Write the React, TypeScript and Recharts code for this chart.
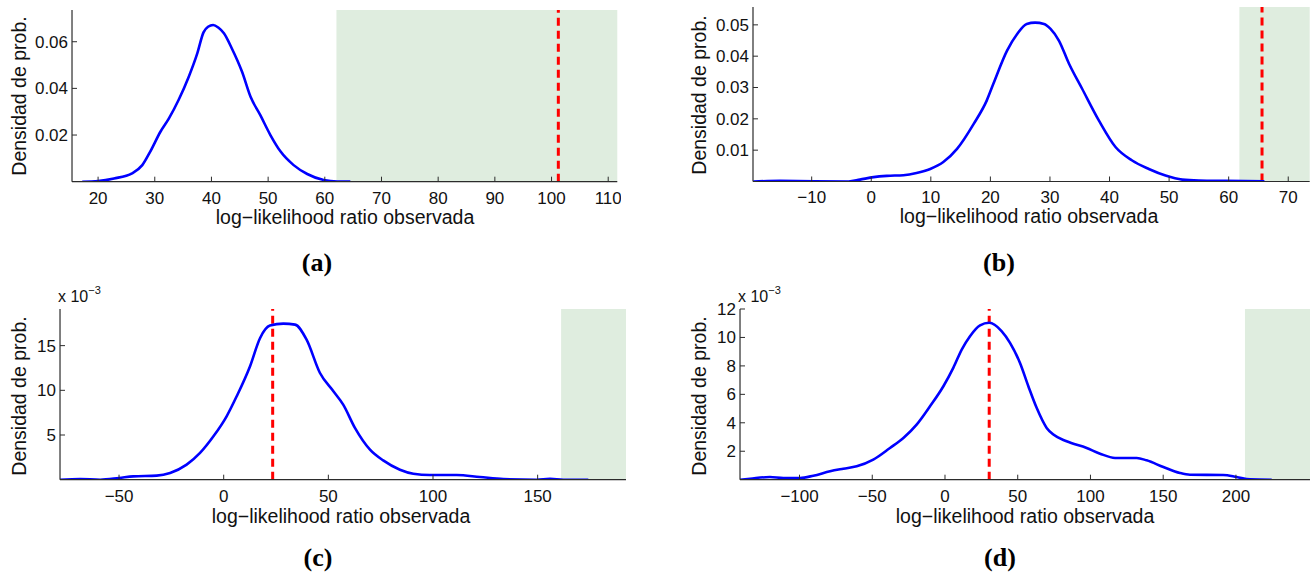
import React from "react";
import {
  ComposedChart,
  Line,
  XAxis,
  YAxis,
  ReferenceArea,
  ReferenceLine,
} from "recharts";

// panel (a)
const xA = [17.2, 20, 22.8, 26, 27.8, 29.2, 31, 32.5, 34.2, 36, 37.5, 38.6, 39.4, 40.3, 41.2, 42.2, 43.6, 45.4, 46.9, 48.6, 50.4, 52.2, 54.5, 56.9, 59.8, 62.2, 64.5];
const yA = [0, 0.0003, 0.0014, 0.0036, 0.0071, 0.0129, 0.0214, 0.0271, 0.035, 0.045, 0.055, 0.064, 0.0664, 0.0672, 0.0661, 0.0636, 0.0571, 0.0471, 0.0364, 0.0286, 0.02, 0.0129, 0.0071, 0.0033, 0.0007, 0.0001, 0.0001];
const xTicksA = [20, 30, 40, 50, 60, 70, 80, 90, 100, 110];
const yTicksA = [0.02, 0.04, 0.06];

// panel (b)
const xB = [-19.8, -15.3, -3.8, -1.9, 0.4, 2.6, 5.4, 7.6, 9.9, 12.1, 14.4, 17.2, 19.4, 20.5, 22.8, 24.5, 26.1, 27.5, 29, 30.1, 31.5, 33.2, 35.4, 38.2, 41, 43.8, 46.6, 49.4, 52.2, 55, 59.5, 66];
const yB = [0, 0.0002, 0, 0.0006, 0.0014, 0.0018, 0.002, 0.0027, 0.004, 0.0062, 0.0104, 0.0184, 0.0259, 0.0312, 0.0418, 0.0471, 0.0503, 0.0507, 0.0503, 0.0487, 0.045, 0.0376, 0.0296, 0.0195, 0.011, 0.0067, 0.004, 0.0019, 0.0006, 0.0003, 0.0002, 0.0001];
const xTicksB = [-10, 0, 10, 20, 30, 40, 50, 60, 70];
const yTicksB = [0.01, 0.02, 0.03, 0.04, 0.05];

// panel (c), density in units of 10^-3
const xC = [-78.2, -68.6, -59, -50, -43.2, -32, -25.6, -17.7, -11.3, -4.9, 1.4, 6.2, 12.6, 17.4, 22.1, 28.5, 34.1, 39.6, 46, 52.4, 57.1, 62.7, 69.9, 76.2, 84.2, 90.6, 98.5, 111.3, 122.4, 133.6, 149.5, 155.9, 162.3, 174.2];
const yC = [0, 0.07, 0, 0.19, 0.37, 0.45, 0.75, 1.68, 2.99, 4.85, 7.09, 9.33, 12.7, 15.86, 17.24, 17.46, 17.35, 15.67, 11.94, 9.9, 8.4, 5.8, 3.36, 2.16, 1.12, 0.67, 0.52, 0.52, 0.3, 0.07, 0, 0.1, 0, 0];
const xTicksC = [-50, 0, 50, 100, 150];
const yTicksC = [5, 10, 15];

// panel (d), density in units of 10^-3
const xD = [-140.9, -134, -120.3, -111.1, -99.7, -90.5, -79, -69.9, -60.7, -49.3, -37.8, -28.6, -19.5, -10.3, -1.1, 5.7, 11.5, 17.2, 24.1, 30.4, 38.9, 44.7, 51.5, 57.3, 63, 69.9, 74.5, 83.6, 97.4, 106.6, 116.9, 131.8, 138.6, 150.1, 161.5, 168.4, 191.3, 200.5, 209.7, 224.6];
const yD = [0, 0.07, 0.19, 0.12, 0.12, 0.28, 0.59, 0.77, 0.94, 1.41, 2.23, 2.93, 3.87, 5.16, 6.57, 7.86, 9.15, 10.09, 10.85, 11.03, 10.45, 9.62, 8.22, 6.57, 5.05, 3.64, 3.17, 2.7, 2.23, 1.83, 1.53, 1.53, 1.36, 0.89, 0.47, 0.35, 0.33, 0.19, 0.02, 0];
const xTicksD = [-100, -50, 0, 50, 100, 150, 200];
const yTicksD = [2, 4, 6, 8, 10, 12];

const SANS = '"Liberation Sans", Arial, Helvetica, sans-serif';
const SERIF = '"Liberation Serif", "Times New Roman", serif';
const AXIS = "#2b2b2b";
const GREEN = "#dfeddf";
const X_LABEL = "log\u2212likelihood ratio observada";
const Y_LABEL = "Densidad de prob.";

const fmtX = (v: number) => (v < 0 ? "\u2212" + Math.abs(v) : String(v));

function XTick(props: any) {
  const { x, y, payload } = props;
  return (
    <g>
      <line x1={x} y1={y} x2={x} y2={y - 5} stroke={AXIS} strokeWidth={1} />
      <text x={x} y={y + 22} textAnchor="middle" fontSize={17} fontFamily={SANS} fill="#111">
        {fmtX(payload.value)}
      </text>
    </g>
  );
}

function makeYTick(fmt: (v: number) => string) {
  return function YTick(props: any) {
    const { x, y, payload } = props;
    return (
      <g>
        <line x1={x} y1={y} x2={x + 5} y2={y} stroke={AXIS} strokeWidth={1} />
        <text x={x - 4} y={y} dy="0.35em" textAnchor="end" fontSize={17} fontFamily={SANS} fill="#111">
          {fmt(payload.value)}
        </text>
      </g>
    );
  };
}

interface PanelProps {
  xs: number[];
  ys: number[];
  left: number;
  top: number;
  right: number;
  bottom: number;
  xDomain: [number, number];
  yMax: number;
  xTicks: number[];
  yTicks: number[];
  yFmt: (v: number) => string;
  greenFrom: number;
  redAt: number;
}

const YW = 60;
const MT = 12;
const MR = 4;
const XH = 34;

function Panel(p: PanelProps) {
  const data = p.xs.map((x, i) => ({ x, y: p.ys[i] }));
  const w = p.right - p.left + YW + MR;
  const h = p.bottom - p.top + MT + XH;
  const YTick = makeYTick(p.yFmt);
  return (
    <div style={{ position: "absolute", left: p.left - YW, top: p.top - MT }}>
      <ComposedChart width={w} height={h} data={data} margin={{ top: MT, right: MR, left: 0, bottom: 0 }}>
        <XAxis
          dataKey="x"
          type="number"
          domain={p.xDomain}
          allowDataOverflow
          ticks={p.xTicks}
          interval={0}
          height={XH}
          tickSize={0}
          tickMargin={0}
          tickLine={false}
          tick={<XTick />}
          axisLine={{ stroke: AXIS, strokeWidth: 1.2 }}
        />
        <YAxis
          type="number"
          domain={[0, p.yMax]}
          allowDataOverflow
          ticks={p.yTicks}
          interval={0}
          width={YW}
          tickSize={0}
          tickMargin={0}
          tickLine={false}
          tick={<YTick />}
          axisLine={{ stroke: AXIS, strokeWidth: 1.2 }}
        />
        <ReferenceArea x1={p.greenFrom} x2={p.xDomain[1]} fill={GREEN} fillOpacity={1} stroke="none" />
        <ReferenceLine x={p.redAt} stroke="#ff0000" strokeWidth={3} strokeDasharray="8 5" />
        <Line
          type="monotone"
          dataKey="y"
          stroke="#0000ff"
          strokeWidth={2.6}
          dot={false}
          activeDot={false}
          isAnimationActive={false}
        />
      </ComposedChart>
    </div>
  );
}

const abs = (extra: React.CSSProperties): React.CSSProperties => ({
  position: "absolute",
  whiteSpace: "nowrap",
  ...extra,
});

function XLabel({ cx, cy }: { cx: number; cy: number }) {
  return (
    <div style={abs({ left: cx, top: cy, transform: "translate(-50%, -50%)", fontFamily: SANS, fontSize: 19.5, color: "#111", lineHeight: 1 })}>
      {X_LABEL}
    </div>
  );
}

function YLabel({ cx, cy }: { cx: number; cy: number }) {
  return (
    <div style={abs({ left: cx, top: cy, transform: "translate(-50%, -50%) rotate(-90deg)", fontFamily: SANS, fontSize: 19.5, color: "#111", lineHeight: 1 })}>
      {Y_LABEL}
    </div>
  );
}

function Caption({ cx, cy, text }: { cx: number; cy: number; text: string }) {
  return (
    <div style={abs({ left: cx, top: cy, transform: "translate(-50%, -50%)", fontFamily: SERIF, fontWeight: 700, fontSize: 26, color: "#000", lineHeight: 1 })}>
      {text}
    </div>
  );
}

function Exponent({ left, top }: { left: number; top: number }) {
  return (
    <div style={abs({ left, top, fontFamily: SANS, fontSize: 16, color: "#111", lineHeight: 1 })}>
      x 10<span style={{ fontSize: 11, position: "relative", top: -8 }}>{"\u2212"}3</span>
    </div>
  );
}

const fmt2 = (v: number) => v.toFixed(2);
const fmt0 = (v: number) => String(v);

export default function App() {
  return (
    <div style={{ position: "absolute", left: 0, top: 0, width: 1310, height: 574, overflow: "hidden", background: "#fff" }}>
      <Panel
        xs={xA}
        ys={yA}
        left={71.7}
        top={10}
        right={617}
        bottom={181.7}
        xDomain={[15.4, 111.6]}
        yMax={0.0736}
        xTicks={xTicksA}
        yTicks={yTicksA}
        yFmt={fmt2}
        greenFrom={62.05}
        redAt={101.2}
      />
      <Panel
        xs={xB}
        ys={yB}
        left={753.3}
        top={6.5}
        right={1310}
        bottom={181}
        xDomain={[-19.85, 73.6]}
        yMax={0.0557}
        xTicks={xTicksB}
        yTicks={yTicksB}
        yFmt={fmt2}
        greenFrom={61.8}
        redAt={65.6}
      />
      <Panel
        xs={xC}
        ys={yC}
        left={60}
        top={309.3}
        right={626}
        bottom={480}
        xDomain={[-78.2, 192.2]}
        yMax={19.1}
        xTicks={xTicksC}
        yTicks={yTicksC}
        yFmt={fmt0}
        greenFrom={161.2}
        redAt={23.4}
      />
      <Panel
        xs={xD}
        ys={yD}
        left={740}
        top={309.3}
        right={1310}
        bottom={480}
        xDomain={[-140.9, 250.9]}
        yMax={12}
        xTicks={xTicksD}
        yTicks={yTicksD}
        yFmt={fmt0}
        greenFrom={206.2}
        redAt={30.4}
      />

      <YLabel cx={20} cy={96} />
      <YLabel cx={700} cy={95} />
      <YLabel cx={20} cy={396} />
      <YLabel cx={700} cy={396} />

      <XLabel cx={345} cy={218} />
      <XLabel cx={1029} cy={217} />
      <XLabel cx={341} cy={517} />
      <XLabel cx={1025} cy={517} />

      <Exponent left={58} top={289} />
      <Exponent left={738} top={289} />

      <Caption cx={317} cy={263} text="(a)" />
      <Caption cx={999} cy={263} text="(b)" />
      <Caption cx={318} cy={558} text="(c)" />
      <Caption cx={1000} cy={558} text="(d)" />
    </div>
  );
}
